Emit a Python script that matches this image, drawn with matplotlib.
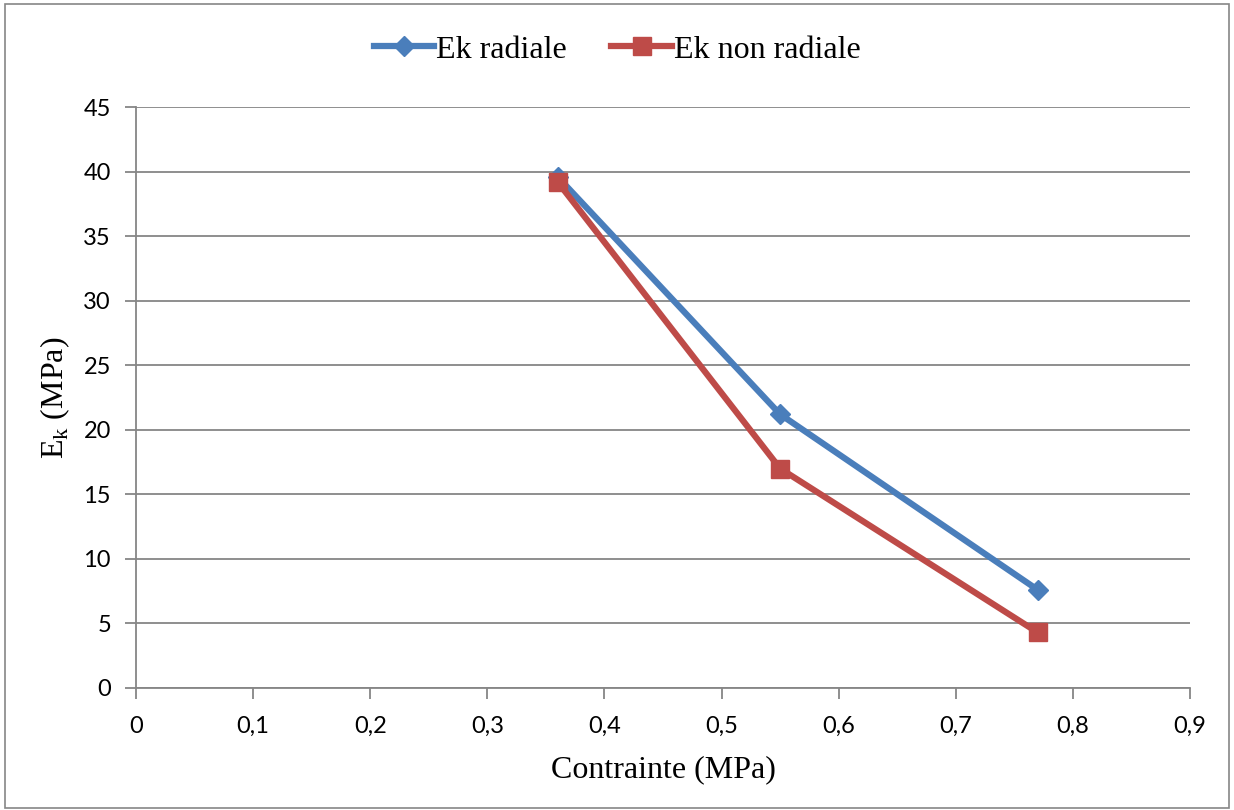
import matplotlib
matplotlib.use('Agg')
import matplotlib.pyplot as plt
from matplotlib.patches import Rectangle

# Data
contrainte = [0.36, 0.55, 0.77]
ek_radiale = [39.6, 21.2, 7.6]
ek_non_radiale = [39.2, 17.0, 4.3]

x_ticks = [0, 0.1, 0.2, 0.3, 0.4, 0.5, 0.6, 0.7, 0.8, 0.9]
x_tick_labels = ['0', '0,1', '0,2', '0,3', '0,4', '0,5', '0,6', '0,7', '0,8', '0,9']
y_ticks = [0, 5, 10, 15, 20, 25, 30, 35, 40, 45]

blue = '#4a7ebb'
red = '#be4b48'
grey = '#868686'

fig = plt.figure(figsize=(12.34, 8.10), dpi=100)
ax = fig.add_axes([136 / 1234, 1 - 688 / 810, (1190 - 136) / 1234, (688 - 107) / 810])

# Outer chart border
fig.patches.append(Rectangle((5 / 1234, 2 / 810), 1224 / 1234, 804 / 810,
                             transform=fig.transFigure, fill=False,
                             edgecolor=grey, linewidth=1.2))

ax.plot(contrainte, ek_radiale, color=blue, linewidth=4.5, marker='D',
        markersize=10, label='Ek radiale', zorder=3)
ax.plot(contrainte, ek_non_radiale, color=red, linewidth=4.5, marker='s',
        markersize=13, label='Ek non radiale', zorder=4)

ax.set_xlim(0, 0.9)
ax.set_ylim(0, 45)
ax.set_xticks(x_ticks)
ax.set_xticklabels(x_tick_labels)
ax.set_yticks(y_ticks)
ax.grid(axis='y', color=grey, linewidth=1.3)
ax.set_axisbelow(True)

for side in ['top', 'right']:
    ax.spines[side].set_visible(False)
for side in ['left', 'bottom']:
    ax.spines[side].set_color(grey)
    ax.spines[side].set_linewidth(1.3)

ax.tick_params(axis='both', direction='out', length=8, width=1.3, color=grey,
               labelsize=17)
ax.tick_params(axis='x', pad=12)
ax.tick_params(axis='y', pad=10)
for lbl in ax.get_xticklabels() + ax.get_yticklabels():
    lbl.set_fontfamily('Lato')

ax.set_xlabel('Contrainte (MPa)', fontfamily='Liberation Serif', fontsize=23, labelpad=13)
ax.set_ylabel('E$_\\mathregular{k}$ (MPa)', fontfamily='Liberation Serif', fontsize=23, labelpad=8)

leg = fig.legend(loc='center', bbox_to_anchor=(0.5, 1 - 50 / 810), ncol=2, frameon=False,
                 prop={'family': 'Liberation Serif', 'size': 23}, handlelength=1.9,
                 columnspacing=1.4, handletextpad=0.05)

fig.savefig('out.png', dpi=100)
